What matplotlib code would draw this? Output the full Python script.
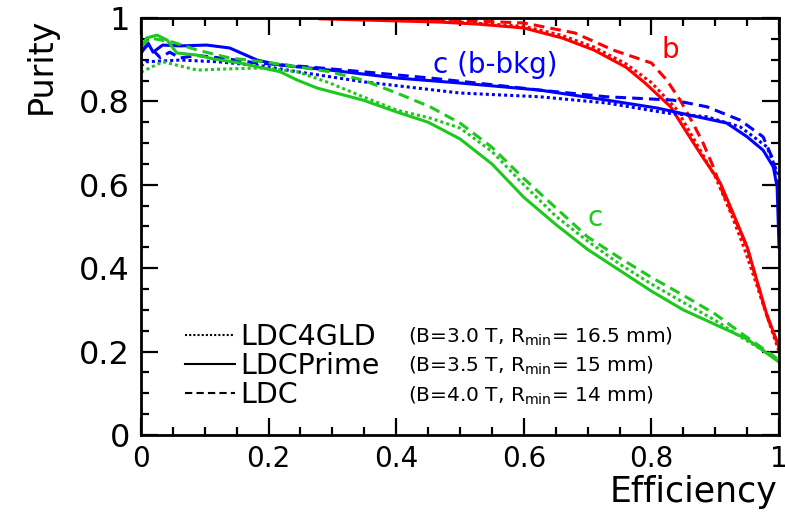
import numpy as np
import matplotlib.pyplot as plt
from matplotlib.lines import Line2D
from matplotlib.ticker import MultipleLocator

plt.rcParams['font.family'] = ['DejaVu Sans']
plt.rcParams['mathtext.fontset'] = 'dejavusans'

######### data #########
# b-tag (red)
b_prime_x = [0.28, 0.35, 0.40, 0.47, 0.53, 0.60, 0.66, 0.71, 0.76, 0.79, 0.83, 0.856, 0.88, 0.908, 0.928, 0.95, 0.965, 0.98, 1.0]
b_prime_y = [0.998, 0.995, 0.993, 0.990, 0.985, 0.976, 0.952, 0.923, 0.882, 0.844, 0.787, 0.724, 0.667, 0.604, 0.532, 0.451, 0.372, 0.293, 0.21]
b_ldc_x = [0.30, 0.40, 0.50, 0.60, 0.68, 0.74, 0.80, 0.824, 0.845, 0.865, 0.881, 0.897, 0.912, 0.93, 0.95, 0.965, 0.98, 1.0]
b_ldc_y = [1.0, 0.998, 0.994, 0.988, 0.964, 0.923, 0.892, 0.851, 0.803, 0.748, 0.700, 0.643, 0.58, 0.52, 0.45, 0.37, 0.29, 0.21]
b_gld_x = [0.30, 0.40, 0.50, 0.60, 0.66, 0.71, 0.76, 0.80, 0.84, 0.87, 0.90, 0.925, 0.945, 0.965, 0.98, 1.0]
b_gld_y = [1.0, 0.997, 0.99, 0.98, 0.958, 0.93, 0.89, 0.845, 0.78, 0.70, 0.62, 0.53, 0.45, 0.36, 0.29, 0.20]

# c-tag with b background (blue)
cb_prime_x = [0.0, 0.011, 0.019, 0.034, 0.061, 0.103, 0.139, 0.182, 0.218, 0.296, 0.401, 0.50, 0.625, 0.73, 0.809, 0.86, 0.918, 0.95, 0.975, 0.991, 0.997, 1.0]
cb_prime_y = [0.915, 0.94, 0.918, 0.935, 0.933, 0.935, 0.928, 0.899, 0.887, 0.875, 0.856, 0.844, 0.827, 0.803, 0.784, 0.767, 0.748, 0.715, 0.683, 0.643, 0.595, 0.45]
cb_ldc_x = [0.0, 0.011, 0.03, 0.045, 0.061, 0.088, 0.119, 0.182, 0.26, 0.348, 0.453, 0.55, 0.625, 0.73, 0.834, 0.887, 0.939, 0.975, 0.991, 1.0]
cb_ldc_y = [0.92, 0.935, 0.905, 0.918, 0.904, 0.91, 0.905, 0.892, 0.883, 0.871, 0.856, 0.84, 0.827, 0.811, 0.803, 0.787, 0.755, 0.715, 0.659, 0.58]
cb_gld_x = [0.0, 0.009, 0.061, 0.12, 0.19, 0.245, 0.348, 0.5, 0.625, 0.73, 0.824, 0.887, 0.939, 0.981, 1.0]
cb_gld_y = [0.885, 0.895, 0.899, 0.895, 0.885, 0.871, 0.847, 0.82, 0.811, 0.796, 0.772, 0.763, 0.739, 0.691, 0.62]

# c-tag (green)
c_prime_x = [0.0, 0.009, 0.025, 0.041, 0.056, 0.088, 0.113, 0.155, 0.191, 0.218, 0.245, 0.276, 0.348, 0.40, 0.45, 0.5, 0.55, 0.6, 0.65, 0.7, 0.75, 0.8, 0.85, 0.9, 0.95, 1.0]
c_prime_y = [0.93, 0.952, 0.959, 0.947, 0.916, 0.911, 0.902, 0.892, 0.880, 0.871, 0.851, 0.832, 0.803, 0.775, 0.75, 0.71, 0.65, 0.57, 0.505, 0.445, 0.395, 0.345, 0.30, 0.265, 0.23, 0.175]
c_ldc_x = [0.0, 0.014, 0.05, 0.088, 0.139, 0.191, 0.245, 0.296, 0.348, 0.401, 0.453, 0.5, 0.55, 0.6, 0.65, 0.7, 0.75, 0.8, 0.85, 0.9, 0.94, 1.0]
c_ldc_y = [0.93, 0.952, 0.942, 0.923, 0.904, 0.895, 0.883, 0.871, 0.851, 0.82, 0.787, 0.748, 0.69, 0.615, 0.545, 0.475, 0.425, 0.378, 0.335, 0.29, 0.245, 0.18]
c_gld_x = [0.0, 0.034, 0.088, 0.139, 0.191, 0.245, 0.296, 0.348, 0.401, 0.453, 0.5, 0.55, 0.6, 0.65, 0.7, 0.75, 0.8, 0.85, 0.9, 0.94, 1.0]
c_gld_y = [0.87, 0.895, 0.875, 0.878, 0.880, 0.871, 0.844, 0.811, 0.779, 0.76, 0.736, 0.68, 0.6, 0.525, 0.465, 0.41, 0.362, 0.318, 0.275, 0.235, 0.18]

tick_vals = [0, 0.2, 0.4, 0.6, 0.8, 1.0]
tick_labels = ['0', '0.2', '0.4', '0.6', '0.8', '1']
detectors = ['LDC4GLD', 'LDCPrime', 'LDC']
det_info = [r'(B=3.0 T, R$_{\rm min}$= 16.5 mm)',
            r'(B=3.5 T, R$_{\rm min}$= 15 mm)',
            r'(B=4.0 T, R$_{\rm min}$= 14 mm)']
##############################################

RED = '#ff0000'
BLUE = '#0000ff'
GREEN = '#1ec81e'
DOT = (0, (1, 1))
DASH = (0, (3.5, 2))
LW = 2.2

fig = plt.figure(figsize=(7.85, 5.13), dpi=100)
ax = fig.add_axes([0.1796, 0.152, 0.8128, 0.813])

ax.plot(b_gld_x, b_gld_y, color=RED, lw=LW, ls=DOT)
ax.plot(b_prime_x, b_prime_y, color=RED, lw=LW, ls='-')
ax.plot(b_ldc_x, b_ldc_y, color=RED, lw=LW, ls=DASH)

ax.plot(cb_gld_x, cb_gld_y, color=BLUE, lw=LW, ls=DOT)
ax.plot(cb_prime_x, cb_prime_y, color=BLUE, lw=LW, ls='-')
ax.plot(cb_ldc_x, cb_ldc_y, color=BLUE, lw=LW, ls=DASH)

ax.plot(c_gld_x, c_gld_y, color=GREEN, lw=LW, ls=DOT)
ax.plot(c_prime_x, c_prime_y, color=GREEN, lw=LW, ls='-')
ax.plot(c_ldc_x, c_ldc_y, color=GREEN, lw=LW, ls=DASH)

ax.text(0.829, 0.923, 'b', color=RED, fontsize=20, ha='center', va='center')
ax.text(0.555, 0.887, 'c (b-bkg)', color=BLUE, fontsize=20, ha='center', va='center')
ax.text(0.711, 0.52, 'c', color=GREEN, fontsize=20, ha='center', va='center')

ax.set_xlim(0, 1)
ax.set_ylim(0, 1)
ax.set_xticks(tick_vals)
ax.set_xticklabels(tick_labels, fontsize=20)
ax.set_yticks(tick_vals)
ax.set_yticklabels(tick_labels, fontsize=23)
ax.xaxis.set_minor_locator(MultipleLocator(0.05))
ax.yaxis.set_minor_locator(MultipleLocator(0.05))
ax.tick_params(which='both', direction='in', top=True, right=True, width=1.6)
ax.tick_params(which='major', length=12)
ax.tick_params(which='minor', length=6)
ax.tick_params(axis='x', pad=7)
ax.tick_params(axis='y', pad=8)
for s in ax.spines.values():
    s.set_linewidth(2)

ax.set_xlabel('Efficiency', fontsize=25, loc='right')
ax.xaxis.set_label_coords(0.997, -0.095)
ax.set_ylabel('Purity', fontsize=24, loc='top')
ax.yaxis.set_label_coords(-0.13, 1.0)

handles = [Line2D([], [], color='black', lw=1.5, ls=DOT),
           Line2D([], [], color='black', lw=1.5, ls='-'),
           Line2D([], [], color='black', lw=1.5, ls=DASH)]
ax.legend(handles, detectors, loc='center left', bbox_to_anchor=(0.069, 0.165),
          frameon=False, fontsize=20.5, handlelength=1.75, handletextpad=0.2,
          labelspacing=0.03, borderpad=0, borderaxespad=0)
for i, txt in enumerate(det_info):
    ax.text(0.418, 0.235 - 0.07 * i, txt, fontsize=14.5, ha='left', va='center',
            transform=ax.transAxes)

fig.savefig('out.png', dpi=100)
